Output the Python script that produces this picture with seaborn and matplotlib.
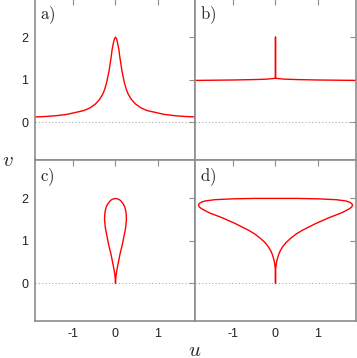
import matplotlib
matplotlib.use("Agg")
import matplotlib.pyplot as plt
import seaborn as sns

# panel a) peaked curve
u_a = [-1.9, -1.65, -1.4, -1.15, -0.93, -0.75, -0.61, -0.48, -0.38, -0.31, -0.26, -0.21,
       -0.18, -0.15, -0.125, -0.1, -0.08, -0.05, -0.025, 0,
       0.025, 0.05, 0.08, 0.1, 0.125, 0.15, 0.18, 0.21, 0.26, 0.31, 0.38, 0.48, 0.61,
       0.75, 0.93, 1.15, 1.4, 1.65, 1.9]
v_a = [0.12, 0.13, 0.15, 0.18, 0.23, 0.27, 0.33, 0.42, 0.53, 0.64, 0.76, 0.93,
       1.08, 1.22, 1.39, 1.55, 1.71, 1.86, 1.96, 2.0,
       1.96, 1.86, 1.71, 1.55, 1.39, 1.22, 1.08, 0.93, 0.76, 0.64, 0.53, 0.42, 0.33,
       0.27, 0.23, 0.18, 0.15, 0.13, 0.12]

# panel b) flat line with a spike
u_b = [-1.9, -1.0, -0.5, -0.2, 0, 0, 0, 0.2, 0.5, 1.0, 1.9]
v_b = [0.98, 0.99, 1.0, 1.01, 1.03, 2.0, 1.03, 1.01, 1.0, 0.99, 0.98]

# panel c) teardrop loop
u_c = [0, 0.005, 0.015, 0.04, 0.07, 0.11, 0.16, 0.2, 0.24, 0.26, 0.255, 0.245, 0.22,
       0.19, 0.16, 0.12, 0.075, 0,
       -0.075, -0.12, -0.16, -0.19, -0.22, -0.245, -0.255, -0.26, -0.24, -0.2, -0.16,
       -0.11, -0.07, -0.04, -0.015, -0.005, 0]
v_c = [0, 0.1, 0.2, 0.35, 0.5, 0.7, 0.9, 1.1, 1.3, 1.5, 1.62, 1.7, 1.8,
       1.86, 1.9, 1.95, 1.98, 2.0,
       1.98, 1.95, 1.9, 1.86, 1.8, 1.7, 1.62, 1.5, 1.3, 1.1, 0.9,
       0.7, 0.5, 0.35, 0.2, 0.1, 0]

# panel d) wide loop on a stem
u_d = [0, 0, 0.016, 0.03, 0.05, 0.08, 0.11, 0.17, 0.25, 0.36, 0.49, 0.64, 0.8, 0.96,
       1.12, 1.28, 1.44, 1.57, 1.67, 1.76, 1.81, 1.83,
       1.81, 1.76, 1.67, 1.44, 1.0, 0.5, 0,
       -0.5, -1.0, -1.44, -1.67, -1.76, -1.81, -1.83,
       -1.81, -1.76, -1.67, -1.57, -1.44, -1.28, -1.12, -0.96, -0.8, -0.64, -0.49,
       -0.36, -0.25, -0.17, -0.11, -0.08, -0.05, -0.03, -0.016, 0, 0]
v_d = [0, 0.3, 0.44, 0.52, 0.6, 0.69, 0.76, 0.86, 0.96, 1.06, 1.16, 1.25, 1.33, 1.41,
       1.48, 1.55, 1.61, 1.66, 1.71, 1.76, 1.8, 1.84,
       1.88, 1.91, 1.94, 1.97, 1.99, 2.0, 2.0,
       2.0, 1.99, 1.97, 1.94, 1.91, 1.88, 1.84,
       1.8, 1.76, 1.71, 1.66, 1.61, 1.55, 1.48, 1.41, 1.33, 1.25, 1.16,
       1.06, 0.96, 0.86, 0.76, 0.69, 0.6, 0.52, 0.44, 0.3, 0]

panels = [(u_a, v_a, "a)"), (u_b, v_b, "b)"), (u_c, v_c, "c)"), (u_d, v_d, "d)")]

sns.set_style("white")
plt.rcParams["font.family"] = ["Liberation Sans", "DejaVu Sans"]
plt.rcParams["mathtext.fontset"] = "cm"
plt.rcParams["axes.unicode_minus"] = False

fig = plt.figure(figsize=(3.57, 3.58), dpi=100)
axes = fig.subplots(2, 2, sharex=True, sharey=True)
fig.subplots_adjust(left=0.0994, right=0.9958, bottom=0.102, top=1.003, wspace=0, hspace=0)

for ax, (u, v, lab) in zip(axes.flat, panels):
    ax.axhline(0, color="#aaaaaa", lw=0.8, ls=(0, (1, 2)), zorder=1)
    sns.lineplot(x=u, y=v, sort=False, estimator=None, color="red", lw=1.0, ax=ax)
    ax.set_xlim(-1.9, 1.9)
    ax.set_ylim(-0.9, 2.9)
    ax.set_xticks([-1, 0, 1])
    ax.set_yticks([0, 1, 2])
    ax.tick_params(direction="in", top=True, right=True, length=4, width=0.8,
                   color="#8c8c8c", labelsize=9, labelcolor="#222222", pad=5)
    for s in ax.spines.values():
        s.set_color("#8c8c8c")
        s.set_linewidth(1.2)
    ax.text(0.03, 0.965, r"$\mathrm{" + lab + "}$", transform=ax.transAxes,
            ha="left", va="top", fontsize=12, color="#222222")

fig.text(8 / 357, 1 - 160 / 358, "$v$", fontsize=15, ha="center", va="center")
fig.text(195 / 357, 1 - 350 / 358, "$u$", fontsize=15, ha="center", va="center")

fig.savefig("out.png", dpi=100)
